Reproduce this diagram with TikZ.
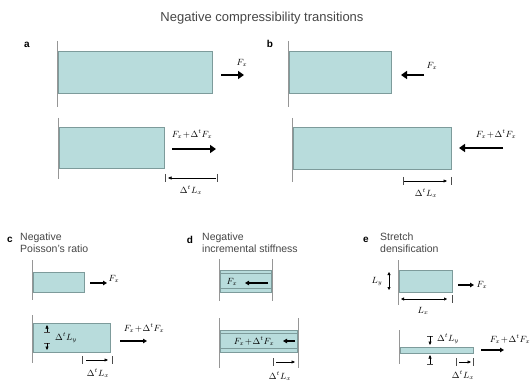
\documentclass[tikz,border=0pt]{standalone}
\usepackage{fontspec}
\setmainfont{Liberation Sans}
\usetikzlibrary{arrows.meta}
\definecolor{barfill}{RGB}{184,220,220}
\definecolor{bardraw}{RGB}{125,155,155}
\definecolor{wallc}{RGB}{150,150,150}
\definecolor{txt}{RGB}{70,70,70}
\tikzset{
 bar/.style={fill=barfill, draw=bardraw, line width=1pt},
 inner/.style={draw=bardraw, line width=0.6pt},
 wall/.style={draw=wallc, line width=1pt},
 bigforce/.style={line width=2.2pt, -{Triangle[length=6pt,width=8pt]}},
 force/.style={line width=1.2pt, -{Triangle[length=4pt,width=4.5pt]}},
 dim/.style={line width=0.5pt, -{Triangle[length=3.5pt,width=3pt]}},
 ddim/.style={line width=0.5pt, {Triangle[length=3pt,width=3pt]}-{Triangle[length=3pt,width=3pt]}},
 tick/.style={line width=0.5pt, draw=black!70},
 lab/.style={font=\bfseries\fontsize{10}{10}\selectfont, inner sep=0},
 ptitle/.style={font=\fontsize{10.5}{12}\selectfont, align=left, anchor=north west, inner sep=0, text=txt},
 math/.style={font=\fontsize{9}{9}\selectfont, inner sep=0},
}
\begin{document}
\begin{tikzpicture}[x=1pt,y=-1pt]
\useasboundingbox (0,0) rectangle (532,387);
\node[font=\fontsize{13}{14}\selectfont, text=txt] (title) at (262,18) {Negative compressibility transitions};
% ---- a
\node[lab] (la) at (27,45) {a};
\draw[wall] (57,41) -- (57,107);
\draw[bar] (58.5,52) rectangle (212,94);
\coordinate (a1s) at (221,75); \coordinate (a1e) at (244,75);
\draw[bigforce] (a1s) -- (a1e);
\node[math] (aF1) at (242,63) {$F_x$};
\draw[wall] (58,118) -- (58,179);
\draw[bar] (59.5,128) rectangle (164,169);
\coordinate (a2s) at (172,149); \coordinate (a2e) at (216,149);
\draw[bigforce] (a2s) -- (a2e);
\node[math] (aF2) at (192,134) {$F_x\!+\!\Delta^t F_x$};
\draw[tick] (165,174) -- (165,182);
\draw[tick] (217,174) -- (217,182);
\coordinate (a3s) at (216,178); \coordinate (a3e) at (168,178);
\draw[dim] (a3s) -- (a3e);
\node[math] (aL) at (191,190) {$\Delta^t L_x$};
% ---- b
\node[lab] (lb) at (270,44) {b};
\draw[wall] (288,41) -- (288,107);
\draw[bar] (289.5,52) rectangle (391,94);
\coordinate (b1s) at (424,75); \coordinate (b1e) at (401,75);
\draw[bigforce] (b1s) -- (b1e);
\node[math] (bF1) at (432,66) {$F_x$};
\draw[wall] (292,118) -- (292,182);
\draw[bar] (293.5,128) rectangle (451,170);
\coordinate (b2s) at (503,148); \coordinate (b2e) at (459,148);
\draw[bigforce] (b2s) -- (b2e);
\node[math] (bF2) at (496,134) {$F_x\!+\!\Delta^t F_x$};
\draw[tick] (403,177) -- (403,185);
\draw[tick] (451,177) -- (451,185);
\coordinate (b3s) at (404,181); \coordinate (b3e) at (447,181);
\draw[dim] (b3s) -- (b3e);
\node[math] (bL) at (426,193) {$\Delta^t L_x$};
% ---- c
\node[lab] (lc) at (10,240) {c};
\node[ptitle] (tc) at (20,233) {Negative\\Poisson's ratio};
\draw[wall] (32,260) -- (32,300);
\draw[bar] (33.5,272) rectangle (84,292);
\coordinate (c1s) at (90,283); \coordinate (c1e) at (107,283);
\draw[force] (c1s) -- (c1e);
\node[math] (cF1) at (114,279) {$F_x$};
\draw[wall] (32,315) -- (32,363);
\draw[bar] (33.5,323) rectangle (110,352);
\draw[tick] (44,332) -- (50,332);
\coordinate (c4s) at (47,332); \coordinate (c4e) at (47,325);
\draw[dim] (c4s) -- (c4e);
\draw[tick] (44,343) -- (50,343);
\coordinate (c5s) at (47,343); \coordinate (c5e) at (47,350);
\draw[dim] (c5s) -- (c5e);
\node[math] (cLy) at (66,338) {$\Delta^t L_y$};
\coordinate (c2s) at (120,341); \coordinate (c2e) at (147,341);
\draw[force] (c2s) -- (c2e);
\node[math] (cF2) at (144,328) {$F_x\!+\!\Delta^t F_x$};
\draw[tick] (82,356) -- (82,364);
\draw[tick] (112,356) -- (112,364);
\coordinate (c3s) at (86,360); \coordinate (c3e) at (108,360);
\draw[dim] (c3s) -- (c3e);
\node[math] (cL) at (98,373) {$\Delta^t L_x$};
% ---- d
\node[lab] (ld) at (190,240) {d};
\node[ptitle] (td) at (202,233) {Negative\\incremental stiffness};
\draw[wall] (219,259) -- (219,301);
\draw[wall] (272,259) -- (272,301);
\draw[bar] (220,270) rectangle (271,292);
\draw[inner] (220,273.5) -- (271,273.5);
\draw[inner] (220,288.5) -- (271,288.5);
\node[math] (dF1) at (232,282) {$F_x$};
\coordinate (d1s) at (268,283); \coordinate (d1e) at (245,283);
\draw[force] (d1s) -- (d1e);
\draw[wall] (219,318) -- (219,368);
\draw[wall] (298,318) -- (298,368);
\draw[bar] (220,330) rectangle (297,352);
\draw[inner] (220,333.5) -- (297,333.5);
\draw[inner] (220,348.5) -- (297,348.5);
\node[math] (dF2) at (254,341) {$F_x\!+\!\Delta^t F_x$};
\coordinate (d2s) at (295,341); \coordinate (d2e) at (283,341);
\draw[force] (d2s) -- (d2e);
\draw[tick] (273,358) -- (273,366);
\coordinate (d3s) at (276,362); \coordinate (d3e) at (295,362);
\draw[dim] (d3s) -- (d3e);
\node[math] (dL) at (280,376) {$\Delta^t L_x$};
% ---- e
\node[lab] (le) at (366,240) {e};
\node[ptitle] (te) at (380,233) {Stretch\\densification};
\draw[wall] (398,260) -- (398,305);
\draw[bar] (399.5,270) rectangle (452,292);
\coordinate (e4s) at (389,272); \coordinate (e4e) at (389,290);
\draw[ddim] (e4s) -- (e4e);
\node[math] (eLy) at (377,282) {$L_y$};
\coordinate (e1s) at (458,285); \coordinate (e1e) at (474,285);
\draw[force] (e1s) -- (e1e);
\node[math] (eF1) at (482,285) {$F_x$};
\coordinate (e5s) at (401,299); \coordinate (e5e) at (447,299);
\draw[ddim] (e5s) -- (e5e);
\draw[tick] (452,295) -- (452,303);
\node[math] (eLx) at (423,311) {$L_x$};
\draw[wall] (399,330) -- (399,364);
\draw[bar] (400,347) rectangle (473,353);
\draw[tick] (427,336) -- (433,336);
\coordinate (e6s) at (430,336) ; \coordinate (e6e) at (430,345);
\draw[dim] (e6s) -- (e6e);
\draw[tick] (427,364) -- (433,364);
\coordinate (e7s) at (430,364) ; \coordinate (e7e) at (430,355);
\draw[dim] (e7s) -- (e7e);
\node[math] (eDLy) at (448,339) {$\Delta^t L_y$};
\coordinate (e2s) at (481,350); \coordinate (e2e) at (504,350);
\draw[force] (e2s) -- (e2e);
\node[math] (eF2) at (510,339) {$F_x\!+\!\Delta^t F_x$};
\draw[tick] (456,358) -- (456,366);
\draw[tick] (473,358) -- (473,366);
\coordinate (e3s) at (459,362); \coordinate (e3e) at (471,362);
\draw[dim] (e3s) -- (e3e);
\node[math] (eDLx) at (463,375) {$\Delta^t L_x$};
\end{tikzpicture}
\end{document}
